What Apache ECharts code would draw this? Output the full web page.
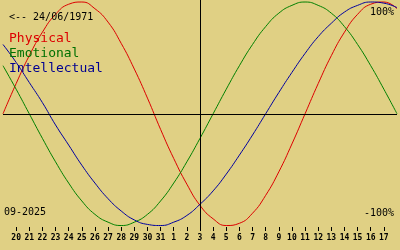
<!DOCTYPE html>
<html>
<head>
<meta charset="utf-8">
<script src="https://cdn.jsdelivr.net/npm/echarts@6/dist/echarts.min.js"></script>
<style>
html,body{margin:0;padding:0;background:#e0d084;}
#c{width:400px;height:250px;}
</style>
</head>
<body>
<div id="c"></div>
<script>
// Days shown: 19 Aug 2025 .. 18 Sep 2025 (edges unlabeled)
var days = ['', '20','21','22','23','24','25','26','27','28','29','30','31',
  '1','2','3','4','5','6','7','8','9','10','11','12','13','14','15','16','17', ''];
var physical = [0.00,0.27,0.52,0.73,0.89,0.98,1.00,0.94,0.82,0.63,0.40,0.14,-0.14,-0.40,-0.63,-0.82,
  -0.94,-1.00,-0.98,-0.89,-0.73,-0.52,-0.27,0.00,0.27,0.52,0.73,0.89,0.98,1.00,0.94];
var emotional = [0.43,0.22,0.00,-0.22,-0.43,-0.62,-0.78,-0.90,-0.97,-1.00,-0.97,-0.90,-0.78,-0.62,-0.43,-0.22,
  0.00,0.22,0.43,0.62,0.78,0.90,0.97,1.00,0.97,0.90,0.78,0.62,0.43,0.22,0.00];
var intellectual = [0.62,0.46,0.28,0.10,-0.10,-0.28,-0.46,-0.62,-0.76,-0.87,-0.95,-0.99,-1.00,-0.97,-0.91,-0.81,
  -0.69,-0.54,-0.37,-0.19,0.00,0.19,0.37,0.54,0.69,0.81,0.91,0.97,1.00,0.99,0.95];
var todayIndex = 15;
var birthText = '<-- 24/06/1971';
var monthText = '09-2025';
var seriesNames = ['Physical','Emotional','Intellectual'];
var colors = ['#dd0000','#008000','#0000a0'];

var chart = echarts.init(document.getElementById('c'), null, {renderer:'canvas'});
var mono = 'DejaVu Sans Mono';
var lineSeries = [physical, emotional, intellectual].map(function(d, k){
  var s = {
    name: seriesNames[k], type:'line', data:d, smooth:true, symbol:'none',
    lineStyle:{color:colors[k], width:1}, animation:false, silent:true
  };
  if (k === 0) {
    s.markLine = {
      silent:true, symbol:'none', label:{show:false},
      lineStyle:{color:'#000', width:1, type:'solid'},
      data:[{yAxis:0},{xAxis:todayIndex}]
    };
  }
  return s;
});
chart.setOption({
  backgroundColor:'#e0d084',
  animation:false,
  grid:{left:0, right:0, top:0, height:231, containLabel:false},
  xAxis:{
    type:'category', data:days, boundaryGap:false,
    axisLine:{show:false, onZero:false},
    axisTick:{show:true, inside:true, length:4, lineStyle:{color:'#000'},
      interval:function(i){ return i>0 && i<days.length-1; }},
    axisLabel:{show:true, interval:0, margin:3, color:'#000',
      fontFamily:mono, fontSize:8, fontWeight:'bold'},
    splitLine:{show:false}
  },
  yAxis:{type:'value', min:-1.049, max:1.018, show:false},
  title:[
    {text:birthText, left:9, top:12, textStyle:{fontFamily:mono, fontSize:10, fontWeight:'normal', color:'#000'}, padding:0},
    {text:seriesNames[0], left:9, top:32, textStyle:{fontFamily:mono, fontSize:13, fontWeight:'normal', color:colors[0]}, padding:0},
    {text:seriesNames[1], left:9, top:47, textStyle:{fontFamily:mono, fontSize:13, fontWeight:'normal', color:'#007000'}, padding:0},
    {text:seriesNames[2], left:9, top:62, textStyle:{fontFamily:mono, fontSize:13, fontWeight:'normal', color:'#000090'}, padding:0},
    {text:'100%', right:6, top:7, textStyle:{fontFamily:mono, fontSize:10, fontWeight:'normal', color:'#000'}, padding:0},
    {text:'-100%', right:6, top:208, textStyle:{fontFamily:mono, fontSize:10, fontWeight:'normal', color:'#000'}, padding:0},
    {text:monthText, left:4, top:207, textStyle:{fontFamily:mono, fontSize:10, fontWeight:'normal', color:'#000'}, padding:0}
  ],
  series: lineSeries
});
</script>
</body>
</html>
